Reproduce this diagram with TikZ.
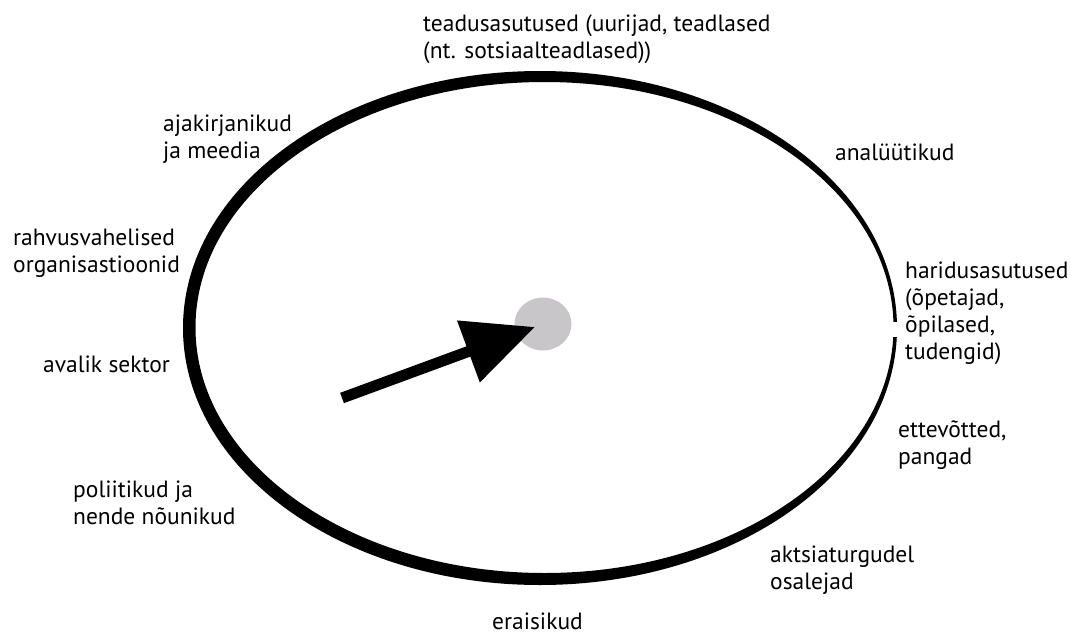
\documentclass[tikz,border=0pt]{standalone}
\usepackage{fontspec}
\setmainfont{PT Sans}
\usetikzlibrary{arrows.meta,shapes.geometric}
\definecolor{hubgrey}{HTML}{C8C6C8}
\tikzset{
	lbl/.style={
		inner sep=0pt, anchor=base west, align=left,
		font={\fontsize{23.5}{27}\selectfont}
	},
	hubA/.style={ellipse, fill=hubgrey, inner sep=0pt, minimum width=57pt, minimum height=53pt},
	pointer/.style={-{Triangle[length=71pt,width=63pt]}, line width=11pt, shorten >=8.5pt},
}

\begin{document}
\begin{tikzpicture}[x=1pt, y=-1pt]
\useasboundingbox (0,0) rectangle (1070,637);
% brush ring
\fill[even odd rule] (540,328) ellipse [x radius=357, y radius=257]
	(544.5,327.5) ellipse [x radius=349, y radius=245.5];
\fill[white] (886,322) rectangle (902,337);
% hub and pointer
\node[hubA] (hub) at (543,324) {};
\coordinate (tail) at (342,398);
\draw[pointer] (tail) -- (hub.center);
% labels round the ring (anchored at the last line)
\node[lbl] (teadus) at (423,58) {teadusasutused (uurijad, teadlased\\(nt. sotsiaalteadlased))};
\node[lbl] (anal) at (835,160) {analüütikud};
\node[lbl] (meedia) at (163,158) {ajakirjanikud\\ja meedia};
\node[lbl] (rahvus) at (13,272) {rahvusvahelised\\organisastioonid};
\node[lbl] (avalik) at (43,372) {avalik sektor};
\node[lbl] (poliit) at (73,524) {poliitikud ja\\nende nõunikud};
\node[lbl] (haridus) at (905,359) {haridusasutused\\(õpetajad,\\õpilased,\\tudengid)};
\node[lbl] (ettev) at (898,464) {ettevõtted,\\pangad};
\node[lbl] (aktsia) at (770,589) {aktsiaturgudel\\osalejad};
\node[lbl] (erai) at (492,629) {eraisikud};
\end{tikzpicture}
\end{document}
